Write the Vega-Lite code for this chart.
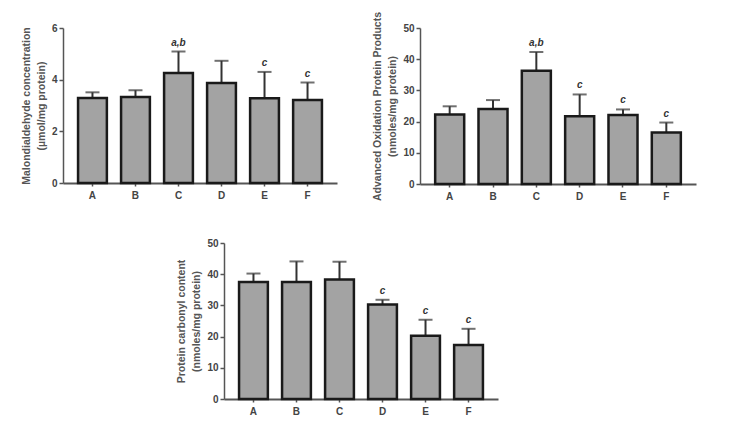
{
  "$schema": "https://vega.github.io/schema/vega-lite/v6.json",
  "padding": {"left": 21, "top": 11, "right": 5, "bottom": 5},
  "background": "white",
  "datasets": {
    "mda": [
      {"g": "A", "mean": 3.29, "hi": 3.51, "lab": ""},
      {"g": "B", "mean": 3.33, "hi": 3.59, "lab": ""},
      {"g": "C", "mean": 4.26, "hi": 5.09, "lab": "a,b"},
      {"g": "D", "mean": 3.87, "hi": 4.73, "lab": ""},
      {"g": "E", "mean": 3.28, "hi": 4.30, "lab": "c"},
      {"g": "F", "mean": 3.21, "hi": 3.89, "lab": "c"}
    ],
    "aopp": [
      {"g": "A", "mean": 22.3, "hi": 24.9, "lab": ""},
      {"g": "B", "mean": 24.0, "hi": 26.9, "lab": ""},
      {"g": "C", "mean": 36.3, "hi": 42.3, "lab": "a,b"},
      {"g": "D", "mean": 21.7, "hi": 28.7, "lab": "c"},
      {"g": "E", "mean": 22.1, "hi": 23.9, "lab": "c"},
      {"g": "F", "mean": 16.5, "hi": 19.7, "lab": "c"}
    ],
    "pcc": [
      {"g": "A", "mean": 37.5, "hi": 40.2, "lab": ""},
      {"g": "B", "mean": 37.5, "hi": 44.1, "lab": ""},
      {"g": "C", "mean": 38.3, "hi": 44.0, "lab": ""},
      {"g": "D", "mean": 30.3, "hi": 31.8, "lab": "c"},
      {"g": "E", "mean": 20.3, "hi": 25.4, "lab": "c"},
      {"g": "F", "mean": 17.3, "hi": 22.5, "lab": "c"}
    ],
    "blank": [{"g": "A"}]
  },
  "vconcat": [
    {
      "hconcat": [
        {
          "width": 274, "height": 155,
          "data": {"name": "mda"},
          "encoding": {
            "x": {"field": "g", "type": "nominal", "title": null,
                  "scale": {"paddingInner": 0.33, "paddingOuter": 0.35}},
            "y": {"field": "mean", "type": "quantitative",
                  "scale": {"domain": [0, 6], "nice": false},
                  "axis": {"values": [0, 2, 4, 6]},
                  "title": ["Malondialdehyde concentration", "(µmol/mg protein)"]}
          },
          "layer": [
            {"mark": {"type": "rule", "color": "#333", "strokeWidth": 2}, "encoding": {"y2": {"field": "hi"}}},
            {"mark": {"type": "tick", "color": "#333", "size": 14, "thickness": 2}, "encoding": {"y": {"field": "hi", "type": "quantitative"}}},
            {"mark": {"type": "bar", "fill": "#a3a3a3", "stroke": "#1a1a1a", "strokeWidth": 2.5}},
            {"mark": {"type": "text", "dy": -9, "fontSize": 10, "fontStyle": "italic", "fontWeight": "bold", "color": "#333"},
             "encoding": {"y": {"field": "hi", "type": "quantitative"}, "text": {"field": "lab"}}}
          ]
        },
        {
          "width": 276, "height": 156,
          "data": {"name": "aopp"},
          "encoding": {
            "x": {"field": "g", "type": "nominal", "title": null,
                  "scale": {"paddingInner": 0.33, "paddingOuter": 0.35}},
            "y": {"field": "mean", "type": "quantitative",
                  "scale": {"domain": [0, 50], "nice": false},
                  "axis": {"values": [0, 10, 20, 30, 40, 50]},
                  "title": ["Advanced Oxidation Protein Products", "(nmoles/mg protein)"]}
          },
          "layer": [
            {"mark": {"type": "rule", "color": "#333", "strokeWidth": 2}, "encoding": {"y2": {"field": "hi"}}},
            {"mark": {"type": "tick", "color": "#333", "size": 14, "thickness": 2}, "encoding": {"y": {"field": "hi", "type": "quantitative"}}},
            {"mark": {"type": "bar", "fill": "#a3a3a3", "stroke": "#1a1a1a", "strokeWidth": 2.5}},
            {"mark": {"type": "text", "dy": -9, "fontSize": 10, "fontStyle": "italic", "fontWeight": "bold", "color": "#333"},
             "encoding": {"y": {"field": "hi", "type": "quantitative"}, "text": {"field": "lab"}}}
          ]
        }
      ],
      "spacing": 35
    },
    {
      "hconcat": [
        {
          "width": 103, "height": 10,
          "data": {"name": "blank"},
          "mark": {"type": "point", "opacity": 0},
          "encoding": {}
        },
        {
          "width": 274, "height": 156,
          "data": {"name": "pcc"},
          "encoding": {
            "x": {"field": "g", "type": "nominal", "title": null,
                  "scale": {"paddingInner": 0.33, "paddingOuter": 0.35}},
            "y": {"field": "mean", "type": "quantitative",
                  "scale": {"domain": [0, 50], "nice": false},
                  "axis": {"values": [0, 10, 20, 30, 40, 50]},
                  "title": ["Protein carbonyl content", "(nmoles/mg protein)"]}
          },
          "layer": [
            {"mark": {"type": "rule", "color": "#333", "strokeWidth": 2}, "encoding": {"y2": {"field": "hi"}}},
            {"mark": {"type": "tick", "color": "#333", "size": 14, "thickness": 2}, "encoding": {"y": {"field": "hi", "type": "quantitative"}}},
            {"mark": {"type": "bar", "fill": "#a3a3a3", "stroke": "#1a1a1a", "strokeWidth": 2.5}},
            {"mark": {"type": "text", "dy": -9, "fontSize": 10, "fontStyle": "italic", "fontWeight": "bold", "color": "#333"},
             "encoding": {"y": {"field": "hi", "type": "quantitative"}, "text": {"field": "lab"}}}
          ]
        }
      ],
      "spacing": 10
    }
  ],
  "spacing": 37,
  "config": {
    "view": {"stroke": null},
    "font": "Liberation Sans",
    "axis": {
      "grid": false,
      "domainColor": "#555",
      "domainWidth": 1.5,
      "tickColor": "#555",
      "tickWidth": 1.5,
      "tickSize": 4,
      "labelFont": "Liberation Sans",
      "labelFontSize": 10,
      "labelFontWeight": "bold",
      "labelColor": "#444",
      "labelPadding": 2,
      "titleFont": "Liberation Sans",
      "titleFontSize": 10.5,
      "titleFontWeight": "bold",
      "titleColor": "#555",
      "titleLineHeight": 15,
      "titlePadding": 5
    },
    "axisX": {"labelAngle": 0, "tickSize": 3, "labelPadding": 4, "domainWidth": 2}
  }
}
